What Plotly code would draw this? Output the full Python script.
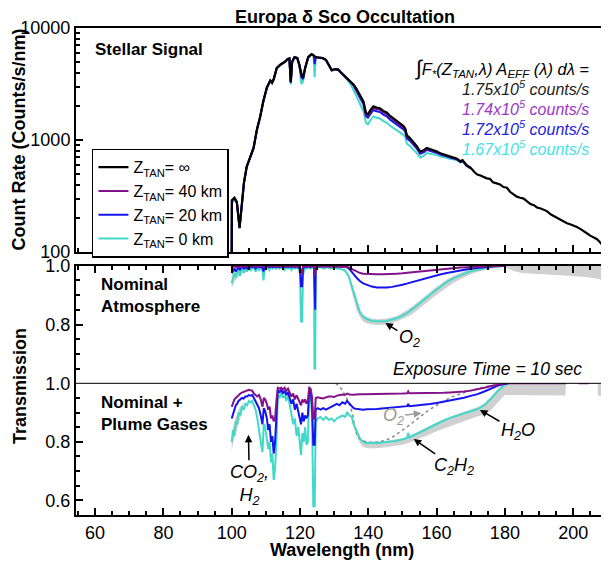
import plotly.graph_objects as go

# ---------------- data ----------------
x_ticks = [60, 80, 100, 120, 140, 160, 180, 200]

wl_star = [100.0, 100.05, 100.8, 101.5, 102.3, 103.0, 103.6, 104.4, 105.4, 106.4,
           107.4, 108.3, 109.3, 110.3, 111.3, 111.8, 112.3, 113.2, 114.2, 115.6,
           116.4, 116.9, 117.3, 117.7, 118.4, 119.2, 119.8, 120.4, 120.9, 121.5,
           122.4, 123.4, 124.0, 124.3, 124.6, 125.4, 126.6, 127.6, 128.5, 129.3,
           130.3, 131.2, 132.0, 132.8, 133.8, 135.0, 135.8, 136.6, 137.6, 138.6,
           139.3, 139.9, 140.6, 141.5, 142.4, 143.4, 144.4, 145.4, 146.4, 147.4,
           148.4, 149.3, 150.3, 150.8, 151.3, 152.2, 153.2, 154.2, 155.2, 156.2,
           157.1, 158.1, 159.1, 160.1, 161.1, 162.0, 163.0, 164.0, 165.0, 166.0,
           167.0, 167.6, 168.8, 170.0, 171.0, 171.8, 173.0, 174.7, 175.6, 176.5,
           177.6, 178.6, 179.6, 180.6, 181.5, 182.5, 183.5, 184.5, 185.5, 186.4,
           187.5, 188.5, 189.4, 190.5, 191.5, 192.3, 193.5, 194.5, 195.2, 196.3,
           197.3, 198.2, 199.3, 200.3, 201.1, 202.2, 203.1, 204.0, 205.0, 206.0,
           207.0, 208.0, 209.0, 209.8]

counts_inf = [100, 290, 305, 280, 165, 290, 420, 580, 690, 850,
              1250, 1600, 2250, 2950, 3400, 3250, 3500, 4400, 4700, 5000,
              5300, 5350, 3300, 5000, 5500, 5400, 4700, 3900, 3600, 4400,
              5500, 5850, 5700, 5600, 5500, 5450, 5400, 5200, 4600, 4200,
              4300, 4250, 4000, 3800, 3550, 3300, 3100, 2850, 2500, 2200,
              1750, 1700, 1850, 2000, 1950, 1920, 1820, 1760, 1640, 1560,
              1480, 1400, 1330, 1270, 1100, 1040, 960, 880, 790, 810,
              850, 830, 810, 790, 760, 745, 730, 705, 700, 680,
              645, 660, 595, 565, 520, 495, 480, 455, 450, 420,
              410, 400, 380, 375, 345, 330, 312, 305, 300, 285,
              268, 262, 250, 245, 238, 232, 216, 208, 202, 193,
              188, 181, 176, 172, 167, 160, 152, 147, 140, 136,
              130, 121, 111, 103]

# attenuation of the stellar signal (100-170 nm)
ratio_0km = [0.94, 0.94, 0.96, 0.97, 0.98, 0.99, 0.98, 0.99, 0.99, 0.99,
             0.99, 0.99, 0.99, 0.99, 0.99, 0.99, 0.99, 0.99, 0.99, 0.99,
             0.99, 0.99, 0.95, 0.99, 0.99, 0.99, 0.99, 0.81, 0.93, 0.99,
             0.99, 0.99, 0.99, 0.65, 0.99, 0.99, 0.99, 0.99, 0.99, 0.99,
             0.99, 0.99, 0.99, 0.99, 0.975, 0.93, 0.895, 0.86, 0.835, 0.822,
             0.816, 0.814, 0.812, 0.811, 0.81, 0.81, 0.811, 0.813, 0.816, 0.82,
             0.825, 0.83, 0.836, 0.84, 0.843, 0.85, 0.858, 0.868, 0.88, 0.89,
             0.9, 0.91, 0.918, 0.928, 0.936, 0.945, 0.952, 0.958, 0.963, 0.968,
             0.973, 0.975, 0.979, 0.984]
ratio_20km = [0.98, 0.98, 0.985, 0.99, 0.99, 0.995, 0.99, 0.995, 0.995, 0.995,
              0.995, 0.995, 0.995, 0.995, 0.995, 0.995, 0.995, 0.995, 0.995, 0.995,
              0.995, 0.995, 0.98, 0.995, 0.995, 0.995, 0.995, 0.93, 0.97, 0.995,
              0.995, 0.995, 0.995, 0.85, 0.995, 0.998, 0.998, 0.998, 0.998, 0.998,
              0.998, 0.998, 0.998, 0.998, 0.995, 0.985, 0.975, 0.962, 0.95, 0.94,
              0.935, 0.932, 0.929, 0.927, 0.926, 0.925, 0.925, 0.926, 0.927, 0.929,
              0.931, 0.933, 0.936, 0.938, 0.94, 0.943, 0.947, 0.951, 0.955, 0.958,
              0.961, 0.964, 0.967, 0.97, 0.973, 0.975, 0.978, 0.98, 0.982, 0.984,
              0.986, 0.987, 0.989, 0.99]
ratio_40km = [0.995, 0.995, 0.997, 0.998, 0.998, 0.998, 0.998, 0.998, 0.998, 0.998,
              0.998, 0.998, 0.998, 0.998, 0.998, 0.998, 0.998, 0.998, 0.998, 0.998,
              0.998, 0.998, 0.995, 0.998, 0.998, 0.998, 0.998, 0.975, 0.99, 0.998,
              0.998, 0.998, 0.998, 0.97, 0.998, 0.998, 0.998, 0.998, 0.998, 0.998,
              0.998, 0.998, 0.998, 0.998, 0.997, 0.99, 0.985, 0.98, 0.976, 0.973,
              0.972, 0.971, 0.971, 0.971, 0.971, 0.971, 0.971, 0.971, 0.972, 0.973,
              0.973, 0.974, 0.975, 0.976, 0.976, 0.978, 0.979, 0.98, 0.982, 0.983,
              0.984, 0.985, 0.986, 0.987, 0.988, 0.989, 0.99, 0.991, 0.992, 0.993,
              0.994, 0.994, 0.995, 0.996]

# nominal atmosphere transmission
wl_nom = [100.0, 100.4, 100.8, 101.2, 101.6, 102.0, 102.4, 102.8, 103.2, 103.6,
          104.0, 104.5, 105.0, 105.5, 106.0, 106.5, 107.0, 107.5, 108.0, 108.5,
          109.0, 109.3, 109.6, 110.0, 110.5, 111.0, 111.5, 112.0, 112.5, 113.0,
          113.5, 114.0, 114.5, 115.0, 115.5, 116.0, 116.5, 117.0, 117.5, 118.0,
          118.5, 119.0, 119.5, 120.0, 120.3, 120.6, 120.9, 121.5, 122.0, 122.5,
          123.0, 123.5, 124.1, 124.25, 124.45, 124.6, 125.0, 126.0, 127.0, 128.0,
          129.0, 130.0, 131.0, 132.0, 132.5, 133.0, 133.5, 134.0, 134.5, 135.0,
          135.5, 136.0, 136.5, 137.0, 137.6, 138.5, 139.6, 141.0, 142.5, 144.0,
          145.5, 147.0, 148.5, 150.0, 151.5, 153.0, 154.5, 156.0, 157.5, 159.0,
          161.0, 163.0, 165.0, 167.0, 169.0, 171.0, 173.0, 175.0, 177.0, 179.0,
          180.0]
t_nom_0km = [0.94, 0.955, 0.975, 0.96, 0.98, 0.985, 0.965, 0.985, 0.99, 0.975,
             0.99, 0.98, 0.995, 0.985, 0.99, 0.995, 0.98, 0.995, 0.985, 0.99,
             0.99, 0.95, 0.985, 0.99, 0.995, 0.985, 0.995, 0.99, 0.995, 0.99,
             0.995, 0.99, 0.995, 0.99, 0.985, 0.995, 0.99, 0.995, 0.985, 0.995,
             0.99, 0.995, 0.99, 0.975, 0.81, 0.81, 0.97, 0.995, 0.99, 0.995,
             0.99, 0.995, 0.99, 0.65, 0.65, 0.99, 0.995, 0.995, 0.99, 0.995,
             0.99, 0.995, 0.99, 0.99, 0.985, 0.985, 0.978, 0.97, 0.955, 0.935,
             0.915, 0.9, 0.88, 0.86, 0.84, 0.826, 0.818, 0.812, 0.81, 0.81,
             0.812, 0.816, 0.822, 0.83, 0.84, 0.853, 0.866, 0.88, 0.895, 0.91,
             0.928, 0.945, 0.958, 0.968, 0.977, 0.984, 0.99, 0.994, 0.997, 0.999,
             1.0]
t_nom_20km = [0.975, 0.985, 0.99, 0.98, 0.99, 0.995, 0.985, 0.995, 0.995, 0.99,
              0.995, 0.99, 0.998, 0.995, 0.995, 0.998, 0.99, 0.998, 0.995, 0.995,
              0.995, 0.98, 0.995, 0.995, 0.998, 0.995, 0.998, 0.995, 0.998, 0.995,
              0.998, 0.995, 0.998, 0.995, 0.995, 0.998, 0.995, 0.998, 0.995, 0.998,
              0.995, 0.998, 0.995, 0.99, 0.93, 0.93, 0.99, 0.998, 0.995, 0.998,
              0.995, 0.998, 0.995, 0.85, 0.85, 0.995, 0.998, 0.998, 0.998, 0.998,
              0.998, 0.998, 0.998, 0.998, 0.998, 0.997, 0.995, 0.993, 0.988, 0.982,
              0.975, 0.967, 0.96, 0.953, 0.947, 0.94, 0.934, 0.929, 0.926, 0.925,
              0.926, 0.928, 0.931, 0.935, 0.94, 0.945, 0.95, 0.955, 0.96, 0.965,
              0.97, 0.975, 0.98, 0.984, 0.988, 0.991, 0.994, 0.996, 0.998, 0.999,
              1.0]
t_nom_40km = [0.995, 0.998, 0.998, 0.995, 0.998, 0.998, 0.995, 0.998, 0.998, 0.998,
              0.998, 0.998, 0.998, 0.998, 0.998, 0.998, 0.998, 0.998, 0.998, 0.998,
              0.998, 0.995, 0.998, 0.998, 0.998, 0.998, 0.998, 0.998, 0.998, 0.998,
              0.998, 0.998, 0.998, 0.998, 0.998, 0.998, 0.998, 0.998, 0.998, 0.998,
              0.998, 0.998, 0.998, 0.997, 0.975, 0.975, 0.997, 0.998, 0.998, 0.998,
              0.998, 0.998, 0.998, 0.97, 0.97, 0.998, 0.998, 0.998, 0.998, 0.998,
              0.998, 0.998, 0.998, 0.998, 0.998, 0.998, 0.997, 0.996, 0.993, 0.99,
              0.986, 0.983, 0.98, 0.977, 0.975, 0.973, 0.972, 0.971, 0.971, 0.971,
              0.971, 0.972, 0.973, 0.974, 0.976, 0.978, 0.98, 0.982, 0.984, 0.986,
              0.988, 0.99, 0.992, 0.994, 0.995, 0.996, 0.997, 0.998, 0.999, 1.0,
              1.0]

# gray uncertainty band, nominal atmosphere
band_nom_a_wl = [100.0, 100.5, 101.0, 101.5, 102.0, 102.5, 103.0, 103.5, 104.0]
band_nom_a_hi = [0.99, 0.99, 0.99, 0.99, 0.99, 0.99, 0.99, 0.99, 0.99]
band_nom_a_lo = [0.925, 0.935, 0.95, 0.955, 0.962, 0.967, 0.972, 0.978, 0.985]
band_nom_b_wl = [134.5, 135.5, 136.5, 137.6, 138.5, 139.6, 141.0, 142.5, 144.0, 145.5,
                 147.0, 148.5, 150.0, 151.5, 153.0, 154.5, 156.0, 157.5, 159.0, 161.0,
                 163.0, 165.0, 167.0, 169.0, 171.0, 173.0, 175.0, 177.0, 180.0, 182.5,
                 185.0, 190.0, 195.0, 200.0, 205.0, 210.2]
band_nom_b_hi = [0.965, 0.92, 0.885, 0.848, 0.834, 0.826, 0.82, 0.818, 0.818, 0.82,
                 0.825, 0.83, 0.84, 0.85, 0.863, 0.876, 0.89, 0.905, 0.92, 0.937,
                 0.953, 0.966, 0.976, 0.985, 0.992, 0.997, 1.0, 1.0, 1.0, 1.0,
                 1.0, 1.0, 1.0, 1.0, 1.0, 1.0]
band_nom_b_lo = [0.94, 0.895, 0.85, 0.825, 0.81, 0.803, 0.8, 0.798, 0.798, 0.8,
                 0.804, 0.81, 0.818, 0.826, 0.837, 0.85, 0.864, 0.878, 0.892, 0.91,
                 0.927, 0.942, 0.955, 0.966, 0.975, 0.982, 0.988, 0.992, 0.995, 0.982,
                 0.975, 0.972, 0.968, 0.965, 0.96, 0.948]

# nominal + plume gases transmission
wl_pl = [100.0, 100.4, 100.8, 101.2, 101.6, 102.0, 102.5, 103.0, 103.5, 104.0,
         104.5, 105.0, 105.5, 106.0, 106.5, 107.0, 107.5, 108.0, 108.5, 109.0,
         109.4, 109.8, 110.3, 110.7, 111.1, 111.5, 111.9, 112.3, 112.7, 113.1,
         113.5, 114.0, 114.5, 115.0, 115.5, 116.0, 116.5, 117.0, 117.5, 118.0,
         118.5, 119.0, 119.5, 120.0, 120.3, 120.7, 121.1, 121.5, 121.9, 122.3,
         122.7, 123.1, 123.5, 123.9, 124.3, 124.6, 125.2, 126.0, 126.8, 127.6,
         128.4, 129.2, 130.0, 130.8, 131.6, 132.4, 133.2, 133.8, 134.5, 135.2,
         135.7, 136.3, 136.9, 137.6, 138.5, 139.5, 141.0, 142.5, 144.0, 146.0,
         148.0, 150.0, 151.4, 151.7, 152.0, 154.0, 156.0, 158.0, 160.0, 162.0,
         164.0, 166.0, 168.0, 170.0, 172.0, 174.0, 176.0, 178.0, 180.0, 181.0]
t_pl_0km = [0.80, 0.84, 0.82, 0.87, 0.86, 0.90, 0.89, 0.92, 0.91, 0.93,
            0.925, 0.94, 0.935, 0.94, 0.925, 0.91, 0.88, 0.83, 0.80, 0.765,
            0.86, 0.85, 0.80, 0.775, 0.80, 0.73, 0.76, 0.67, 0.71, 0.80,
            0.96, 0.95, 0.97, 0.95, 0.96, 0.94, 0.96, 0.93, 0.89, 0.86,
            0.88, 0.82, 0.85, 0.79, 0.755, 0.83, 0.80, 0.85, 0.79, 0.80,
            0.96, 0.95, 0.90, 0.58, 0.58, 0.87, 0.88, 0.885, 0.875, 0.885,
            0.875, 0.88, 0.87, 0.88, 0.885, 0.89, 0.885, 0.90, 0.89, 0.885,
            0.86, 0.845, 0.83, 0.81, 0.80, 0.795, 0.797, 0.795, 0.798, 0.80,
            0.803, 0.808, 0.813, 0.83, 0.815, 0.826, 0.838, 0.85, 0.862, 0.872,
            0.882, 0.89, 0.898, 0.905, 0.912, 0.925, 0.948, 0.975, 0.995, 1.0]
t_pl_20km = [0.88, 0.90, 0.91, 0.925, 0.93, 0.94, 0.945, 0.95, 0.948, 0.955,
             0.955, 0.96, 0.958, 0.96, 0.95, 0.94, 0.925, 0.915, 0.89, 0.86,
             0.915, 0.905, 0.88, 0.84, 0.86, 0.80, 0.82, 0.76, 0.80, 0.90,
             0.975, 0.97, 0.978, 0.965, 0.975, 0.96, 0.97, 0.95, 0.93, 0.945,
             0.91, 0.93, 0.90, 0.88, 0.86, 0.90, 0.87, 0.89, 0.88, 0.89,
             0.975, 0.97, 0.93, 0.79, 0.79, 0.91, 0.915, 0.91, 0.915, 0.91,
             0.915, 0.92, 0.925, 0.93, 0.925, 0.935, 0.93, 0.94, 0.93, 0.92,
             0.915, 0.913, 0.912, 0.91, 0.91, 0.911, 0.911, 0.912, 0.914, 0.916,
             0.918, 0.92, 0.922, 0.93, 0.922, 0.924, 0.926, 0.929, 0.933, 0.937,
             0.941, 0.946, 0.951, 0.957, 0.963, 0.972, 0.982, 0.992, 0.998, 1.0]
t_pl_40km = [0.92, 0.935, 0.945, 0.95, 0.955, 0.96, 0.965, 0.968, 0.97, 0.972,
             0.975, 0.978, 0.976, 0.975, 0.965, 0.958, 0.955, 0.96, 0.945, 0.92,
             0.95, 0.945, 0.93, 0.91, 0.92, 0.88, 0.89, 0.87, 0.88, 0.94,
             0.985, 0.982, 0.985, 0.978, 0.985, 0.975, 0.982, 0.968, 0.955, 0.965,
             0.945, 0.96, 0.945, 0.935, 0.925, 0.945, 0.935, 0.945, 0.93, 0.94,
             0.985, 0.982, 0.955, 0.88, 0.88, 0.95, 0.952, 0.95, 0.948, 0.952,
             0.955, 0.955, 0.953, 0.958, 0.96, 0.962, 0.96, 0.965, 0.962, 0.96,
             0.961, 0.962, 0.963, 0.963, 0.963, 0.963, 0.963, 0.964, 0.964, 0.964,
             0.964, 0.965, 0.966, 0.972, 0.966, 0.966, 0.966, 0.967, 0.967, 0.968,
             0.969, 0.97, 0.972, 0.975, 0.979, 0.985, 0.991, 0.996, 0.999, 1.0]
wl_pl_40km_tail = [190.0, 198.0, None, 201.5, 204.5]
t_pl_40km_tail = [1.0, 1.0, None, 1.0, 1.0]

# O2-only reference (gray dotted)
wl_o2 = [130.5, 131.5, 132.5, 133.5, 134.5, 135.5, 136.2, 137.0, 138.0, 139.5,
         141.0, 143.0, 145.0, 147.0, 149.0, 151.0, 153.0, 155.0, 157.0, 159.0,
         161.0, 163.0, 165.0, 167.0, 169.0, 171.0, 173.0, 175.0, 177.0, 179.0,
         181.0]
t_o2 = [1.0, 0.99, 0.975, 0.955, 0.93, 0.89, 0.84, 0.815, 0.805, 0.80,
        0.798, 0.80, 0.805, 0.815, 0.83, 0.848, 0.866, 0.885, 0.902, 0.918,
        0.932, 0.945, 0.956, 0.965, 0.972, 0.979, 0.985, 0.99, 0.994, 0.997,
        1.0]

# gray uncertainty band, plume
band_pl_a_wl = [100.0, 100.5, 101.0, 101.5, 102.0, 102.5, 103.0, 103.5]
band_pl_a_hi = [0.83, 0.86, 0.88, 0.89, 0.91, 0.92, 0.93, 0.935]
band_pl_a_lo = [0.77, 0.80, 0.82, 0.84, 0.86, 0.88, 0.90, 0.92]
band_pl_b_wl = [135.2, 136.3, 137.6, 138.5, 140.0, 142.0, 144.0, 146.0, 148.0, 150.0,
                152.0, 154.0, 156.0, 158.0, 160.0, 162.0, 164.0, 166.0, 168.0, 170.0,
                172.0, 174.0, 176.0, 178.0, 180.0, 181.0, 185.0, 190.0, 195.0, 197.8]
band_pl_b_hi = [0.89, 0.85, 0.815, 0.805, 0.80, 0.80, 0.802, 0.805, 0.808, 0.813,
                0.82, 0.831, 0.843, 0.855, 0.867, 0.877, 0.887, 0.895, 0.903, 0.91,
                0.918, 0.932, 0.955, 0.982, 1.0, 1.0, 1.0, 1.0, 1.0, 1.0]
band_pl_b_lo = [0.87, 0.83, 0.795, 0.782, 0.778, 0.778, 0.78, 0.782, 0.786, 0.79,
                0.797, 0.806, 0.816, 0.826, 0.836, 0.845, 0.854, 0.862, 0.87, 0.878,
                0.886, 0.895, 0.91, 0.935, 0.96, 0.96, 0.958, 0.958, 0.958, 0.958]
band_pl_c_wl = [207.2, 210.2]
band_pl_c_hi = [1.0, 1.0]
band_pl_c_lo = [0.958, 0.955]

integrated_counts = ["1.75", "1.74", "1.72", "1.67"]

# ---------------- style ----------------
FN = "Liberation Sans Narrow, Arial Narrow, Liberation Sans, Arial, sans-serif"
C_INF = "#000000"
C_40 = "#83128a"
C_20 = "#1414ee"
C_0 = "#40d9c9"
C_BAND = "#d0d0d0"
TXT_COLORS = ["#222222", "#a035c8", "#2222dd", "#3fe3ea"]

fig = go.Figure()


def band(wl, hi, lo, xa, ya):
    fig.add_trace(go.Scatter(x=list(wl) + list(wl)[::-1], y=list(hi) + list(lo)[::-1],
                             fill="toself", fillcolor=C_BAND, line=dict(width=0),
                             mode="lines", showlegend=False, hoverinfo="skip",
                             xaxis=xa, yaxis=ya))


n = len(ratio_0km)
# top panel: stellar signal
for ratio, col, name, rank in [(ratio_0km, C_0, "Z<sub>TAN</sub>= 0 km", 4),
                               (ratio_20km, C_20, "Z<sub>TAN</sub>= 20 km", 3),
                               (ratio_40km, C_40, "Z<sub>TAN</sub>= 40 km", 2)]:
    fig.add_trace(go.Scatter(x=wl_star[:n], y=[c * r for c, r in zip(counts_inf[:n], ratio)],
                             mode="lines", line=dict(color=col, width=2), name=name,
                             legendrank=rank, xaxis="x3", yaxis="y3"))
fig.add_trace(go.Scatter(x=wl_star, y=counts_inf, mode="lines",
                         line=dict(color=C_INF, width=2.2), name="Z<sub>TAN</sub>= ∞",
                         legendrank=1, xaxis="x3", yaxis="y3"))

# middle panel: nominal atmosphere
band(band_nom_a_wl, band_nom_a_hi, band_nom_a_lo, "x2", "y2")
band(band_nom_b_wl, band_nom_b_hi, band_nom_b_lo, "x2", "y2")
for t, col in [(t_nom_0km, C_0), (t_nom_20km, C_20), (t_nom_40km, C_40)]:
    fig.add_trace(go.Scatter(x=wl_nom, y=t, mode="lines", line=dict(color=col, width=2),
                             showlegend=False, xaxis="x2", yaxis="y2"))

# bottom panel: nominal + plume gases
band(band_pl_a_wl, band_pl_a_hi, band_pl_a_lo, "x", "y")
band(band_pl_b_wl, band_pl_b_hi, band_pl_b_lo, "x", "y")
band(band_pl_c_wl, band_pl_c_hi, band_pl_c_lo, "x", "y")
fig.add_trace(go.Scatter(x=wl_o2, y=t_o2, mode="lines",
                         line=dict(color="#888888", width=1.5, dash="dot"),
                         showlegend=False, xaxis="x", yaxis="y"))
fig.add_trace(go.Scatter(x=wl_pl, y=t_pl_0km, mode="lines", line=dict(color=C_0, width=2),
                         showlegend=False, xaxis="x", yaxis="y"))
fig.add_trace(go.Scatter(x=wl_pl, y=t_pl_20km, mode="lines", line=dict(color=C_20, width=2),
                         showlegend=False, xaxis="x", yaxis="y"))
fig.add_trace(go.Scatter(x=wl_pl + wl_pl_40km_tail, y=t_pl_40km + t_pl_40km_tail,
                         mode="lines", line=dict(color=C_40, width=2),
                         showlegend=False, xaxis="x", yaxis="y", connectgaps=False))

XR = [54.4, 210.2]
tickfont = dict(family=FN, size=18, color="black")
xcommon = dict(range=XR, tickvals=x_ticks, ticks="inside", ticklen=7, tickwidth=1.5,
               tickcolor="black", showgrid=False, zeroline=False, automargin=False,
               minor=dict(dtick=5, tick0=0, ticks="inside", ticklen=4, tickcolor="black",
                          showgrid=False),
               tickfont=tickfont)
ycommon = dict(ticks="inside", ticklen=7, tickwidth=1.5, tickcolor="black", showgrid=False,
               zeroline=False, showline=True, linewidth=2, linecolor="black", mirror="ticks",
               tickfont=tickfont, automargin=False,
               minor=dict(dtick=0.05, tick0=0, ticks="inside", ticklen=4, tickcolor="black",
                          showgrid=False))

D_TOP = [0.540, 1.0]
D_MID = [0.2704, 0.5119]
D_BOT = [0.0, 0.2704]

# the page body adds an 8 px offset; size/margins compensate for it
fig.update_layout(
    width=601, height=553,
    margin=dict(l=68, r=1, t=20, b=46),
    paper_bgcolor="white", plot_bgcolor="white",
    font=dict(family=FN, size=18, color="black"),
    xaxis=dict(**xcommon, anchor="y", domain=[0, 1], showline=True, linewidth=2,
               linecolor="black", mirror=False, showticklabels=True),
    xaxis2=dict(**xcommon, anchor="y2", domain=[0, 1], matches="x", showline=True,
                linewidth=2, linecolor="black", side="top", showticklabels=False),
    xaxis3=dict(**xcommon, anchor="y3", domain=[0, 1], matches="x", showline=True,
                linewidth=2, linecolor="black", mirror=True, showticklabels=False),
    yaxis=dict(**ycommon, domain=D_BOT, range=[0.55, 1.0], tickvals=[0.6, 0.8, 1.0],
               ticktext=["0.6", "0.8", "1.0"], anchor="x"),
    yaxis2=dict(**ycommon, domain=D_MID, range=[0.6, 1.0], tickvals=[0.8, 1.0],
                ticktext=["0.8", "1.0"], anchor="x2"),
    yaxis3=dict(type="log", domain=D_TOP, range=[2, 4], tickvals=[100, 1000, 10000],
                ticktext=["100", "1000", "10000"], anchor="x3", automargin=False,
                ticks="inside", ticklen=7, tickwidth=1.5, tickcolor="black", showgrid=False,
                showline=True, linewidth=2, linecolor="black", mirror="ticks",
                tickfont=tickfont,
                minor=dict(dtick="D1", ticks="inside", ticklen=4, tickcolor="black",
                           showgrid=False)),
    legend=dict(x=0.03, y=0.752, xanchor="left", yanchor="top", bgcolor="white",
                bordercolor="black", borderwidth=1.5,
                font=dict(family=FN, size=16, color="black"), tracegroupgap=0),
    showlegend=True,
)

# thin separator between middle and bottom panels
fig.add_shape(type="line", xref="paper", x0=0, x1=1, yref="paper", y0=D_BOT[1], y1=D_BOT[1],
              line=dict(color="black", width=1))

ann = []
C = dict(xanchor="center", yanchor="middle", showarrow=False)
L = dict(xanchor="left", yanchor="middle", showarrow=False, align="left")
R = dict(xanchor="right", yanchor="middle", showarrow=False)
ann.append(dict(text="<b>Europa δ Sco Occultation</b>", xref="paper", yref="paper",
                x=0.506, y=1.0226, font=dict(size=18), **C))
ann.append(dict(text="<b>Count Rate (Counts/s/nm)</b>", xref="paper", yref="paper",
                x=-0.108, y=0.77, textangle=-90, font=dict(size=18), **C))
ann.append(dict(text="<b>Transmission</b>", xref="paper", yref="paper",
                x=-0.105, y=0.265, textangle=-90, font=dict(size=18), **C))
ann.append(dict(text="<b>Wavelength (nm)</b>", xref="paper", yref="paper",
                x=0.5, y=-0.071, font=dict(size=18), **C))
ann.append(dict(text="<b>Stellar Signal</b>", xref="paper", yref="paper",
                x=0.032, y=0.955, font=dict(size=17), **L))
ann.append(dict(text="<i><span style='font-size:21px'>∫</span>F<sub>*</sub>(Z<sub>TAN</sub>,λ) "
                     "A<sub>EFF</sub> (λ) dλ =</i>",
                xref="paper", yref="paper", x=0.968, y=0.918, font=dict(size=16.5), **R))
for i, (val, col) in enumerate(zip(integrated_counts, TXT_COLORS)):
    ann.append(dict(text=f"<i>{val}x10<sup>5</sup> counts/s</i>", xref="paper", yref="paper",
                    x=0.968, y=0.876 - 0.041 * i, font=dict(size=16, color=col), **R))
ann.append(dict(text="<b>Nominal<br>Atmosphere</b>", xref="paper", yref="paper",
                x=0.043, y=0.4505, font=dict(size=17), **L))
ann.append(dict(text="<b>Nominal +<br>Plume Gases</b>", xref="paper", yref="paper",
                x=0.043, y=0.2094, font=dict(size=17), **L))
ann.append(dict(text="<i>Exposure Time = 10 sec</i>", xref="paper", yref="paper",
                x=0.955, y=0.2998, font=dict(size=17.5), **R))
arrow = dict(showarrow=True, arrowhead=2, arrowsize=1, arrowwidth=1.5, arrowcolor="black")
ann.append(dict(text="<i>O<sub>2</sub></i>", xref="x2", yref="y2", x=145.0, y=0.805,
                ax=24, ay=15, font=dict(size=18), **arrow))
ann.append(dict(text="<i>CO<sub>2</sub>,<br>H<sub>2</sub></i>", xref="x", yref="y",
                x=104.9, y=0.824, ax=1, ay=50, font=dict(size=18), **arrow))
ann.append(dict(text="<i>C<sub>2</sub>H<sub>2</sub></i>", xref="x", yref="y",
                x=153.3, y=0.81, ax=40, ay=28, font=dict(size=18), **arrow))
ann.append(dict(text="<i>H<sub>2</sub>O</i>", xref="x", yref="y",
                x=172.7, y=0.909, ax=38, ay=22, font=dict(size=18), **arrow))
ann.append(dict(text="<i>O<sub>2</sub></i>", xref="x", yref="y", x=155.5, y=0.898,
                ax=-28, ay=3, font=dict(size=18, color="#999999"), showarrow=True,
                arrowhead=2, arrowsize=1, arrowwidth=1.5, arrowcolor="#999999"))
fig.update_layout(annotations=ann)

fig.write_html("out.html")
